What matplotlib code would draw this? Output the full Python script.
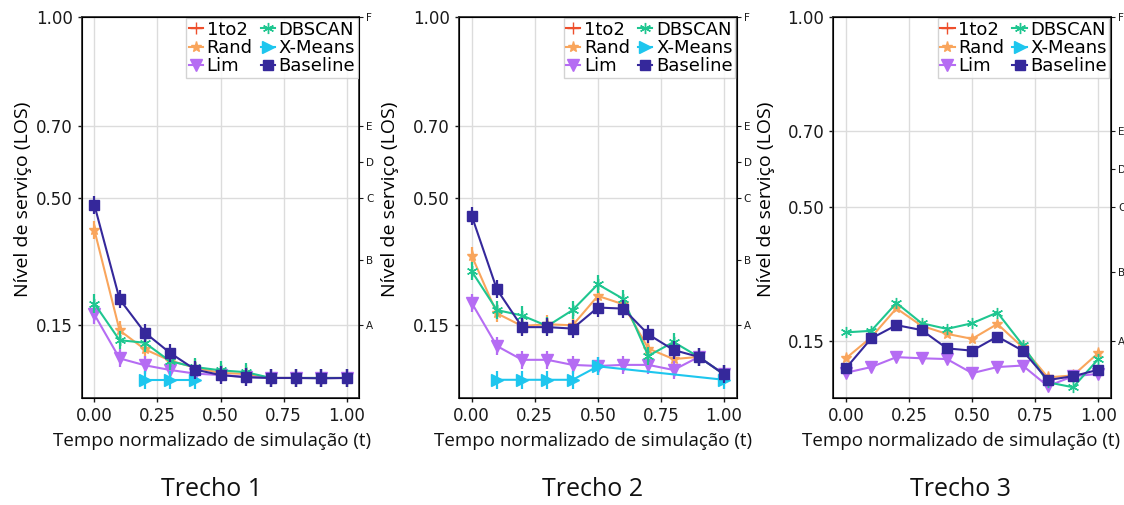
import numpy as np
import matplotlib
matplotlib.use("Agg")
import matplotlib.pyplot as plt

plt.rcParams['font.family'] = ['DejaVu Sans']

# ---- dados ----
t = [0.0, 0.1, 0.2, 0.3, 0.4, 0.5, 0.6, 0.7, 0.8, 0.9, 1.0]
nan = np.nan

series = ['1to2', 'Rand', 'Lim', 'DBSCAN', 'X-Means', 'Baseline']
cores = ['#ee4f2c', '#f9a55c', '#b56cf3', '#1fc690', '#1ec6ee', '#35289b']
marcas = ['+', '*', 'v', (6, 2, 0), '>', 's']

# Trecho 1
tr1_1to2 = [nan] * 11
tr1_rand = [0.413, 0.136, 0.084, 0.053, 0.033, 0.019, 0.016, 0.005, 0.005, 0.005, 0.005]
tr1_lim = [0.180, 0.059, 0.040, 0.027, 0.017, 0.013, 0.008, 0.005, 0.005, 0.005, 0.005]
tr1_dbscan = [0.210, 0.109, 0.102, 0.051, 0.035, 0.026, 0.021, 0.005, 0.005, 0.005, 0.005]
tr1_xmeans = [nan, nan, 0.000, 0.000, 0.000, nan, nan, nan, nan, nan, nan]
tr1_base = [0.482, 0.222, 0.130, 0.074, 0.028, 0.013, 0.007, 0.005, 0.005, 0.004, 0.005]

# Trecho 2
tr2_1to2 = [nan] * 11
tr2_rand = [0.342, 0.183, 0.148, 0.153, 0.150, 0.231, 0.208, 0.086, 0.057, 0.063, 0.015]
tr2_lim = [0.212, 0.093, 0.055, 0.055, 0.041, 0.038, 0.041, 0.041, 0.027, 0.063, 0.015]
tr2_dbscan = [0.299, 0.192, 0.177, 0.148, 0.192, 0.263, 0.223, 0.066, 0.104, 0.063, 0.015]
tr2_xmeans = [nan, 0.000, 0.000, 0.000, 0.000, 0.037, nan, nan, nan, nan, 0.000]
tr2_base = [0.452, 0.249, 0.145, 0.145, 0.141, 0.199, 0.196, 0.125, 0.082, 0.063, 0.015]

# Trecho 3
tr3_1to2 = [nan] * 11
tr3_rand = [0.104, 0.159, 0.235, 0.189, 0.168, 0.155, 0.194, 0.133, 0.054, 0.059, 0.118]
tr3_lim = [0.066, 0.081, 0.107, 0.104, 0.102, 0.065, 0.081, 0.085, 0.031, 0.057, 0.063]
tr3_dbscan = [0.172, 0.176, 0.249, 0.196, 0.181, 0.196, 0.224, 0.139, 0.041, 0.028, 0.102]
tr3_xmeans = [nan] * 11
tr3_base = [0.078, 0.156, 0.191, 0.178, 0.130, 0.124, 0.161, 0.124, 0.047, 0.057, 0.074]

erro = [0.025, 0.025, 0.004]   # desvio (barras) por trecho

trechos = [
    [tr1_1to2, tr1_rand, tr1_lim, tr1_dbscan, tr1_xmeans, tr1_base],
    [tr2_1to2, tr2_rand, tr2_lim, tr2_dbscan, tr2_xmeans, tr2_base],
    [tr3_1to2, tr3_rand, tr3_lim, tr3_dbscan, tr3_xmeans, tr3_base],
]
titulos = ['Trecho 1', 'Trecho 2', 'Trecho 3']
ylims = [(-0.05, 1.0), (-0.05, 1.0), (0.0, 1.0)]

yticks = [0.15, 0.50, 0.70, 1.00]
los_ticks = [0.15, 0.33, 0.50, 0.60, 0.70, 1.00]
los_labels = ['A', 'B', 'C', 'D', 'E', 'F']

fig = plt.figure(figsize=(11.24, 5.05), dpi=100)
lefts = [0.0727, 0.4084, 0.7414]
centros = [212 / 1124, 593 / 1124, 961 / 1124]   # centro dos textos de baixo
pads = [3, 10, 9]
tam = {'s': 7, 'v': 8, '>': 8, '*': 8, '+': 8}

for k in range(3):
    ax = fig.add_axes([lefts[k], 0.212, 0.247, 0.755])
    for i, nome in enumerate(series):
        y = np.array(trechos[k][i], dtype=float)
        x = np.array(t)
        m = ~np.isnan(y)
        ms = tam.get(marcas[i], 8) if isinstance(marcas[i], str) else 8
        ax.plot(x[m], y[m], color=cores[i], marker=marcas[i], ms=ms, lw=1.5,
                label=nome, zorder=3 + i)
        if m.sum() > 0:
            ax.errorbar(x[m], y[m], yerr=erro[k], fmt='none', ecolor=cores[i],
                        elinewidth=1.6, capsize=0, zorder=3 + i)
    ax.set_xlim(-0.05, 1.05)
    ax.set_ylim(*ylims[k])
    ax.set_xticks([0.0, 0.25, 0.5, 0.75, 1.0])
    ax.set_yticks(yticks)
    ax.set_xticklabels(['0.00', '0.25', '0.50', '0.75', '1.00'])
    ax.set_yticklabels(['0.15', '0.50', '0.70', '1.00'])
    ax.tick_params(labelsize=12, length=3, width=1, colors='#1a1a1a')
    ax.grid(True, color='#dcdcdc', lw=1)
    ax.set_axisbelow(True)
    for s in ax.spines.values():
        s.set_color('#333333')
        s.set_linewidth(1.3)

    sec = ax.twinx()
    sec.set_ylim(*ylims[k])
    sec.set_yticks(los_ticks)
    sec.set_yticklabels(los_labels)
    sec.tick_params(labelsize=7.5, length=3, width=0.8, colors='#1a1a1a', pad=2)

    leg = ax.legend(ncol=2, loc='upper right', fontsize=13, handlelength=0.8,
                    handletextpad=0.2, columnspacing=0.45, labelspacing=0.02,
                    borderpad=0.12, borderaxespad=0.1, fancybox=False,
                    framealpha=0.85, edgecolor='#cccccc')
    leg.set_zorder(20)

    ax.set_ylabel('Nível de serviço (LOS)', fontsize=14, family='Open Sans',
                  labelpad=pads[k], y=0.52)
    fig.text(centros[k], 0.127, 'Tempo normalizado de simulação (t)', ha='center', va='center',
             fontsize=13.5, family='Open Sans', color='#111111')
    fig.text(centros[k], 0.03, titulos[k], ha='center', va='center',
             fontsize=18, family='Open Sans', color='#111111')

fig.savefig('out.png', dpi=100)
